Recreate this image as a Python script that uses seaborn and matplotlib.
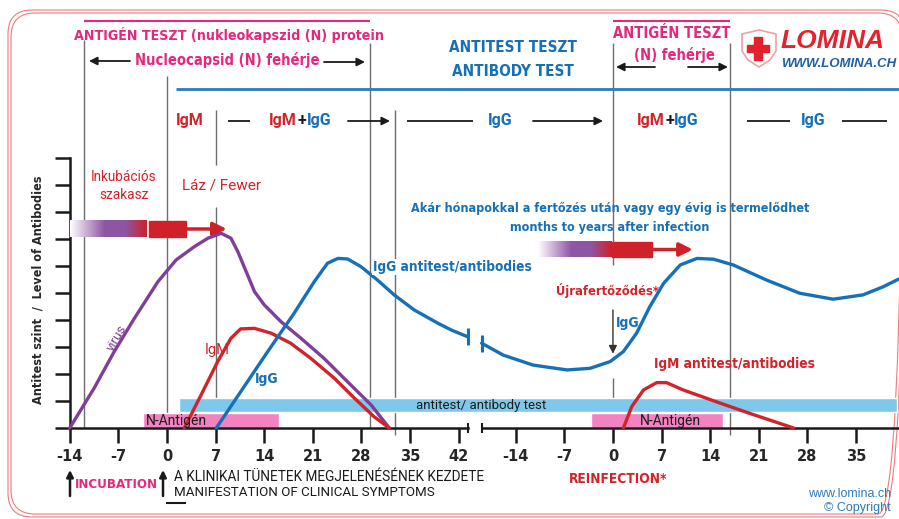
import matplotlib
matplotlib.use("Agg")
import matplotlib.pyplot as plt
import matplotlib.patches as mpatches
from matplotlib.colors import LinearSegmentedColormap
from matplotlib.transforms import Affine2D
import numpy as np
import pandas as pd
import seaborn as sns

# primary infection: days relative to symptom onset, relative level (0-10)
virus_day = [-14, -10.5, -7.6, -4.7, -1.3, 1.3, 3.9, 5.9, 7.8, 9.2, 10.2, 11.4,
             12.6, 14.0, 16.4, 19.3, 22.6, 26.0, 29.4, 32.0]
virus_lvl = [0, 1.47, 2.83, 4.06, 5.42, 6.22, 6.71, 7.03, 7.21, 7.03, 6.53, 5.79,
             5.05, 4.56, 3.94, 3.32, 2.58, 1.71, 0.85, 0]
igm_day = [2.5, 4.9, 7.3, 9.2, 10.6, 12.6, 15.0, 17.8, 20.7, 24.1, 27.0, 29.8, 32.0]
igm_lvl = [0, 1.22, 2.46, 3.32, 3.67, 3.69, 3.51, 3.14, 2.58, 1.84, 1.10, 0.42, 0]
igg_day = [7.1, 10.6, 14.5, 18.3, 21.2, 23.1, 24.6, 26.0, 27.9, 30.3, 32.7, 35.6,
           39.0, 41.0, 43.3]
igg_lvl = [0, 1.34, 2.83, 4.25, 5.42, 6.10, 6.28, 6.26, 5.98, 5.48, 4.93, 4.37,
           3.88, 3.62, 3.38]

# reinfection: days relative to reinfection
igg_re_day = [-18.9, -15.8, -11.5, -6.6, -3.3, -0.4, 1.5, 3.4, 5.3, 7.3, 9.7, 12.1,
              14.5, 17.3, 22.1, 26.9, 31.7, 36.0, 38.9, 41.1]
igg_re_lvl = [3.14, 2.70, 2.33, 2.15, 2.21, 2.46, 2.83, 3.51, 4.49, 5.36, 6.04, 6.28,
              6.25, 6.04, 5.48, 4.99, 4.77, 4.93, 5.23, 5.51]
igm_re_day = [1.5, 2.7, 4.4, 6.3, 7.7, 10.1, 14.9, 19.7, 26.0]
igm_re_lvl = [0, 0.79, 1.41, 1.68, 1.68, 1.41, 0.97, 0.54, 0]

# windows (days)
n_antigen = (-3.4, 16.1)
n_antigen_re = (-3.2, 15.8)
antibody_test = (1.7, 40.9)        # start: primary day, end: reinfection day
ref_days = [-12, 0, 7, 29.2, 32.8]
ref_days_re = [0, 16.9]

ticks_primary = [-14, -7, 0, 7, 14, 21, 28, 35, 42]
ticks_re = [-14, -7, 0, 7, 14, 21, 28, 35]

OFF = 64.2  # position of reinfection day 0 on the broken axis

PURPLE = "#7f3f98"
RED = "#d2232a"
BLUE = "#1570b8"
PINK = "#e5287d"
GRAY = "#6d6d6d"
NARROW = dict(family="DejaVu Sans", stretch="condensed", weight="bold")
REG = ["Roboto", "DejaVu Sans"]

sns.set_theme(style="white")
plt.rcParams["font.family"] = ["DejaVu Sans"]

W, H = 899, 519
fig = plt.figure(figsize=(W / 100, H / 100), dpi=100)
ax = fig.add_axes([0, 0, 1, 1])
ax.set_xlim(-24.04, 105.38)
ax.set_ylim(-3.37, 15.85)
ax.set_autoscale_on(False)
PX = Affine2D().scale(1 / W, -1 / H).translate(0, 1) + fig.transFigure


def txt(x, y, s, **kw):
    opts = dict(ha="center", va="center", transform=PX)
    opts.update(kw)
    return ax.text(x, y, s, **opts)


def arrow(x0, y0, x1, y1, color="k", lw=1.3, ms=12):
    ax.annotate("", xy=(x1, y1), xytext=(x0, y0), xycoords=PX, textcoords=PX,
                arrowprops=dict(arrowstyle="-|>", color=color, lw=lw,
                                mutation_scale=ms, shrinkA=0, shrinkB=0))


def seg(x0, y0, x1, y1, color="k", lw=1.3):
    ax.plot([x0, x1], [y0, y1], transform=PX, color=color, lw=lw,
            solid_capstyle="butt")


# frame
for off in (0, 3):
    ax.add_patch(mpatches.FancyBboxPatch(
        (8 + off, 10 + off), 897 - 2 * off, 507 - 2 * off,
        boxstyle="round,pad=0,rounding_size=24", transform=PX,
        fill=False, ec="#ef7b7b", lw=0.8, clip_on=False))

# reference lines
ax.vlines(ref_days[0], 0, 14.37, color=GRAY, lw=1, zorder=1)
ax.vlines(ref_days[1], 0, 13.04, color=GRAY, lw=1, zorder=1)
ax.vlines([ref_days[2]] * 2, [0, 9.74], [8.19, 11.78], color=GRAY, lw=1, zorder=1)
ax.vlines(ref_days[3], 0, 14.26, color=GRAY, lw=1, zorder=1)
ax.vlines(ref_days[4], -0.26, 11.78, color=GRAY, lw=1, zorder=1)
ax.vlines([OFF + ref_days_re[0]] * 2, [0, 6.04], [1.85, 14.26], color=GRAY, lw=1, zorder=1)
ax.annotate("", xy=(OFF + ref_days_re[0], 2.75), xytext=(OFF + ref_days_re[0], 4.37),
            arrowprops=dict(arrowstyle="-|>", color="#333333", lw=1,
                            mutation_scale=12, shrinkA=0, shrinkB=0))
ax.vlines(OFF + ref_days_re[1], -0.26, 14.26, color=GRAY, lw=1, zorder=1)

# top bracket lines
ax.hlines(15.07, ref_days[0], ref_days[3], color=PINK, lw=1.5)
ax.hlines(15.07, OFF + ref_days_re[0], OFF + ref_days_re[1], color=PINK, lw=1.5)
ax.hlines(12.56, 1.3, 105.4, color="#2a7ac0", lw=2)

# windows
ax.barh(0.85, OFF + antibody_test[1] - antibody_test[0], left=antibody_test[0],
        height=0.52, color="#7ec8ec", zorder=2)
ax.barh(0.28, n_antigen[1] - n_antigen[0], left=n_antigen[0], height=0.56,
        color="#f083c0", zorder=2)
ax.barh(0.28, n_antigen_re[1] - n_antigen_re[0], left=OFF + n_antigen_re[0],
        height=0.56, color="#f083c0", zorder=2)

# curves
parts = [
    ("virus", virus_day, virus_lvl, 0),
    ("IgM", igm_day, igm_lvl, 0),
    ("IgG", igg_day, igg_lvl, 0),
    ("IgG re", igg_re_day, igg_re_lvl, OFF),
    ("IgM re", igm_re_day, igm_re_lvl, OFF),
]
curves = pd.concat([pd.DataFrame({"curve": n, "pos": np.array(d) + o, "level": l})
                    for n, d, l, o in parts], ignore_index=True)
palette = {"virus": PURPLE, "IgM": RED, "IgG": BLUE, "IgG re": BLUE, "IgM re": RED}
sns.lineplot(data=curves, x="pos", y="level", hue="curve", palette=palette,
             estimator=None, sort=False, lw=2.4, legend=False, ax=ax, zorder=4)
# break caps on IgG curve
ax.vlines(igg_day[-1], igg_lvl[-1] - 0.32, igg_lvl[-1] + 0.32, color=BLUE, lw=2.2, zorder=4)
ax.vlines(OFF + igg_re_day[0], igg_re_lvl[0] - 0.32, igg_re_lvl[0] + 0.32, color=BLUE,
          lw=2.2, zorder=4)

# axes
for s in ["top", "right"]:
    ax.spines[s].set_visible(False)
ax.spines["left"].set_position(("data", -14))
ax.spines["left"].set_bounds(0, 10)
ax.spines["bottom"].set_position(("data", 0))
ax.spines["bottom"].set_bounds(-14, 43.3)
for s in ["left", "bottom"]:
    ax.spines[s].set_color("k")
    ax.spines[s].set_linewidth(1.8)
ax.plot([OFF + igg_re_day[0], 105.4], [0, 0], color="k", lw=1.8, solid_capstyle="butt")
ax.vlines([43.3, OFF + igg_re_day[0]], -0.18, 0.18, color="k", lw=1.5)
ax.set_yticks(range(0, 11))
ax.set_yticklabels([])
ax.set_xticks([float(t) for t in ticks_primary] + [OFF + t for t in ticks_re])
ax.set_xticklabels([str(t) for t in ticks_primary] + [str(t) for t in ticks_re])
ax.tick_params(axis="both", direction="out", length=11, width=1.8, color="k",
               left=True, bottom=True)
ax.tick_params(axis="x", pad=4, labelsize=10.5)
for lb in ax.get_xticklabels():
    lb.set_fontweight("bold")
ax.grid(False)
ax.set_facecolor("white")
ax.set_xlabel("")
ax.set_ylabel("")
txt(38, 290, "Antitest szint  /  Level of Antibodies", rotation=90, size=9, **NARROW)

# header
txt(229, 35, "ANTIGÉN TESZT (nukleokapszid (N) protein", color=PINK, size=10.2, **NARROW)
txt(227, 60, "Nucleocapsid (N) fehérje", color=PINK, size=10.5, **NARROW)
arrow(130, 61, 89, 61)
arrow(324, 62, 365, 62)
txt(513, 47, "ANTITEST TESZT", color=BLUE, size=11, **NARROW)
txt(513, 72, "ANTIBODY TEST", color=BLUE, size=11, **NARROW)
txt(672, 33, "ANTIGÉN TESZT", color=PINK, size=10.5, **NARROW)
txt(674, 55, "(N) fehérje", color=PINK, size=10.5, **NARROW)
arrow(655, 67, 616, 67)
arrow(688, 67, 728, 67)

# logo
ax.add_patch(mpatches.Polygon([(742, 34), (759, 30), (776, 34), (776, 51), (770, 60),
                               (759, 67), (748, 60), (742, 51)], closed=True,
                              transform=PX, fc="white", ec="#f0a0a0", lw=1.2))
ax.add_patch(mpatches.Rectangle((747, 44.5), 22, 7.5, transform=PX, color="#e3232c"))
ax.add_patch(mpatches.Rectangle((754.3, 37), 7.5, 23, transform=PX, color="#e3232c"))
txt(781, 41, "LOMINA", ha="left", color="#e3232c", family=["Liberation Sans", "DejaVu Sans"],
    weight="bold", style="italic", size=19)
txt(781, 64, "WWW.LOMINA.CH", ha="left", color="#1f5fa8",
    family=["Liberation Sans", "DejaVu Sans"], weight="bold", style="italic", size=9.5)

# phase row
ROW = 121
BF = dict(family=REG, weight="bold", size=11.5)
txt(190, ROW, "IgM", color=RED, **BF)
seg(228, ROW, 250, ROW)
txt(297, ROW, "IgM", ha="right", color=RED, **BF)
txt(302, ROW, "+", color="k", **BF)
txt(307, ROW, "IgG", ha="left", color=BLUE, **BF)
arrow(348, ROW, 390, ROW)
seg(407, ROW, 473, ROW)
txt(500, ROW, "IgG", color=BLUE, **BF)
arrow(533, ROW, 603, ROW)
txt(665, ROW, "IgM", ha="right", color=RED, **BF)
txt(669.5, ROW, "+", color="k", **BF)
txt(674, ROW, "IgG", ha="left", color=BLUE, **BF)
seg(747, ROW, 790, ROW)
txt(813, ROW, "IgG", color=BLUE, **BF)
seg(842, ROW, 887, ROW)

# gradient arrows
cmap = LinearSegmentedColormap.from_list(
    "fade", [(0, "#ffffff"), (0.45, "#8e56a2"), (0.72, "#8e56a2"), (1, "#d0202a")])
grad = np.linspace(0, 1, 256).reshape(1, -1)
ax.imshow(grad, cmap=cmap, extent=(-13.96, -2.88, 7.07, 7.67), aspect="auto", zorder=3)
ax.add_patch(mpatches.Rectangle((-2.6, 7.07), 5.4, 0.6, color="#d0202a", zorder=3))
ax.annotate("", xy=(8.6, 7.37), xytext=(2.7, 7.37),
            arrowprops=dict(arrowstyle="-|>", color="#d0202a", lw=2.5,
                            mutation_scale=20, shrinkA=0, shrinkB=0), zorder=3)
ax.imshow(grad, cmap=cmap, extent=(53.4, 64.0, 6.33, 6.89), aspect="auto", zorder=3)
ax.add_patch(mpatches.Rectangle((64.0, 6.33), 5.8, 0.56, color="#d0202a", zorder=3))
ax.annotate("", xy=(75.7, 6.61), xytext=(69.7, 6.61),
            arrowprops=dict(arrowstyle="-|>", color="#d0202a", lw=2.5,
                            mutation_scale=20, shrinkA=0, shrinkB=0), zorder=3)

# in-plot annotations
txt(124, 186, "Inkubációs\nszakasz", color=RED, family=REG, size=9.8, linespacing=1.35)
txt(222, 185, "Láz / Fewer", color=RED, family=REG, size=11)
txt(610, 208, "Akár hónapokkal a fertőzés után vagy egy évig is termelődhet", color=BLUE,
    size=9, **NARROW)
txt(610, 228, "months to years after infection", color=BLUE, size=9, **NARROW)
txt(373, 267, "IgG antitest/antibodies", ha="left", color=BLUE, size=9.8,
    bbox=dict(fc="white", ec="none", pad=1), zorder=5, **NARROW)
txt(607, 290, "Újrafertőződés*", color=RED, size=9.3, **NARROW)
txt(628, 323, "IgG", color=BLUE, size=10, **NARROW)
txt(117, 338, "virus", color=PURPLE, family=REG, size=9.5, rotation=60)
txt(217, 350, "IgM", color=RED, family=REG, size=10.5)
txt(267, 379, "IgG", color=BLUE, size=10, **NARROW)
txt(734, 364, "IgM antitest/antibodies", color=RED, size=9.8, **NARROW)
txt(481, 405, "antitest/ antibody test", color="k", family=REG, size=9.5, zorder=5)
txt(146, 421, "N-Antigén", ha="left", color="k", family=REG, size=10, zorder=5)
txt(670, 421, "N-Antigén", color="k", family=REG, size=10, zorder=5)

# bottom notes
arrow(70, 496, 70, 470, lw=1.8, ms=10)
arrow(163, 496, 163, 470, lw=1.8, ms=10)
txt(116, 484, "INCUBATION", color=PINK, size=9.5, **NARROW)
txt(174, 477, "A KLINIKAI TÜNETEK MEGJELENÉSÉNEK KEZDETE", ha="left", color="k",
    family=REG, size=9.8)
txt(174, 492, "MANIFESTATION OF CLINICAL SYMPTOMS", ha="left", color="k",
    family=REG, size=9.6)
seg(166, 503, 186, 503, lw=1.5)
txt(618, 479, "REINFECTION*", color=RED, size=9.8, **NARROW)
txt(891, 494, "www.lomina.ch", ha="right", color="#2d7bbd",
    family=["Liberation Sans", "DejaVu Sans"], size=9)
txt(891, 508, "© Copyright", ha="right", color="#2d7bbd",
    family=["Liberation Sans", "DejaVu Sans"], size=9)

fig.savefig("out.png", dpi=100, facecolor="white")
